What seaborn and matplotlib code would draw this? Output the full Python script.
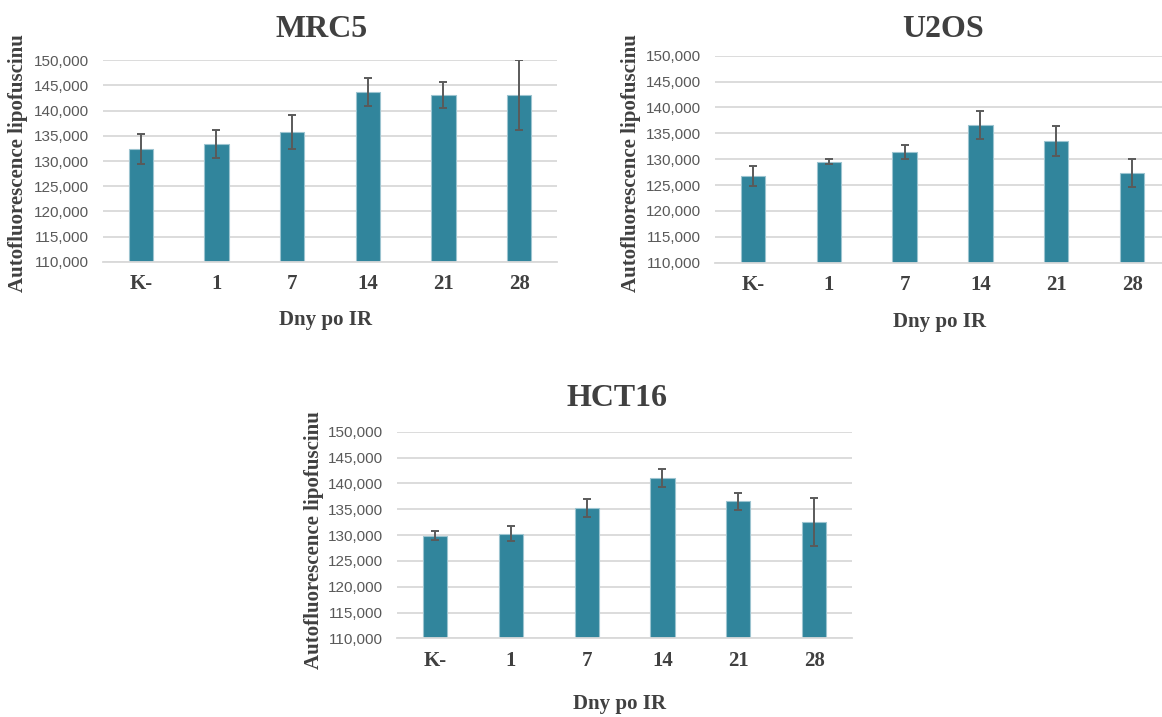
import pandas as pd
import matplotlib
matplotlib.use("Agg")
import matplotlib.pyplot as plt
import seaborn as sns

# Values
days = ["K-", "1", "7", "14", "21", "28"]

mrc5_mean = [132350, 133350, 135800, 143700, 143100, 143100]
mrc5_err = [2900, 2850, 3400, 2750, 2550, 7000]

u2os_mean = [126700, 129550, 131400, 136700, 133550, 127350]
u2os_err = [1950, 550, 1350, 2700, 2900, 2650]

hct16_mean = [129900, 130300, 135300, 141050, 136550, 132550]
hct16_err = [800, 1450, 1750, 1700, 1650, 4700]

bar_color = "#31859C"
text_color = "#404040"

sns.set_theme(style="white")
plt.rcParams["font.family"] = ["Liberation Serif", "DejaVu Sans"]

fig = plt.figure(figsize=(11.62, 7.17), dpi=100)

panels = [
    ("MRC5", mrc5_mean, mrc5_err, [0.0886, 0.6346, 0.3907, 0.2817], (322, 37), 18, 163, (326, 320)),
    ("U2OS", u2os_mean, u2os_err, [0.6153, 0.6336, 0.3916, 0.2887], (943, 37), 631, 163, (940, 322)),
    ("HCT16", hct16_mean, hct16_err, [0.3417, 0.1095, 0.3916, 0.2884], (617, 406), 314, 540, (620, 704)),
]

W, H = 1162, 717

for name, mean, err, rect, tpos, ylx, yly, xlpos in panels:
    ax = fig.add_axes(rect)
    df = pd.DataFrame({"den": days, "hodnota": mean})
    sns.barplot(data=df, x="den", y="hodnota", color=bar_color, width=0.32,
                saturation=1, edgecolor="#9cc4d0", linewidth=0.8, errorbar=None, ax=ax)
    ax.errorbar(range(len(days)), mean, yerr=err, fmt="none", ecolor="#5a5a5a",
                elinewidth=1.4, capsize=3.2, capthick=1.4, zorder=5)
    ax.set_ylim(110000, 150000)
    ax.set_xlim(-0.5, 5.5)
    ax.set_yticks(range(110000, 150001, 5000))
    ax.set_yticklabels([f"{v:,}" for v in range(110000, 150001, 5000)],
                       fontfamily="Liberation Sans", fontsize=11, color="#595959")
    ax.set_xticks(range(len(days)))
    ax.set_xticklabels(days, fontsize=15, fontweight="bold", color=text_color)
    ax.tick_params(axis="y", length=0, pad=10)
    ax.tick_params(axis="x", length=0, pad=9)
    ax.yaxis.grid(True, color="#d9d9d9", linewidth=1.3)
    ax.set_axisbelow(True)
    for s in ["top", "right", "left"]:
        ax.spines[s].set_visible(False)
    ax.spines["bottom"].set_color("#d9d9d9")
    ax.spines["bottom"].set_linewidth(1.3)
    ax.set_xlabel("")
    ax.set_ylabel("")

    fig.text(tpos[0] / W, 1 - tpos[1] / H, name, ha="center", va="baseline",
             fontsize=23, fontweight="bold", color=text_color)
    fig.text(ylx / W, 1 - yly / H, "Autofluorescence lipofuscinu", rotation=90,
             ha="center", va="center", fontsize=15, fontweight="bold", color=text_color)
    fig.text(xlpos[0] / W, 1 - xlpos[1] / H, "Dny po IR", ha="center", va="center",
             fontsize=15, fontweight="bold", color=text_color)

fig.savefig("out.png", dpi=100, facecolor="white")
